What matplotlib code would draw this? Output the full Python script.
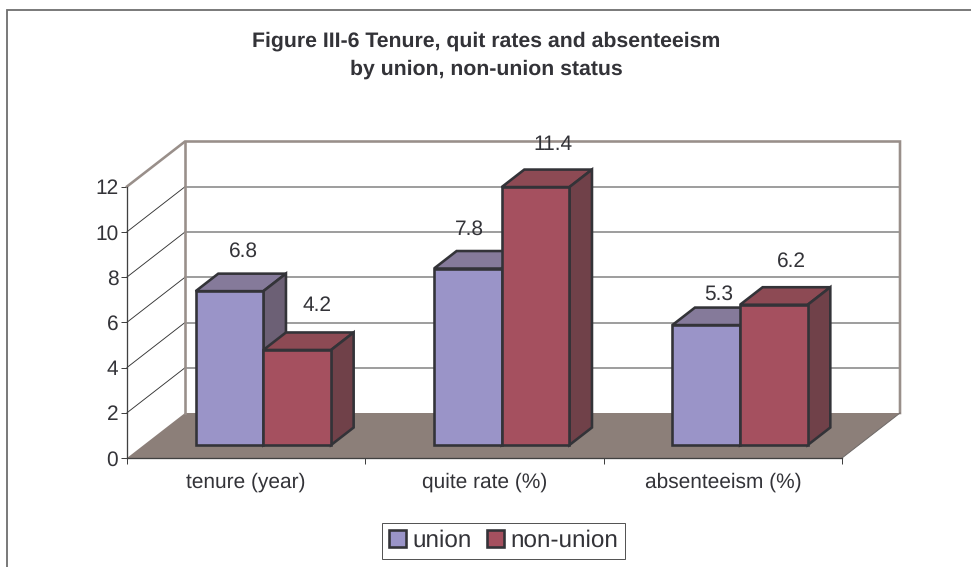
import matplotlib

matplotlib.use("Agg")
import matplotlib.pyplot as plt
from matplotlib.patches import Patch, Polygon

categories = ["tenure (year)", "quite rate (%)", "absenteeism (%)"]
union = [6.8, 7.8, 5.3]
non_union = [4.2, 11.4, 6.2]
y_ticks = [0, 2, 4, 6, 8, 10, 12]
title = "Figure III-6 Tenure, quit rates and absenteeism\nby union, non-union status"

# pixel offsets of the value labels from the top centre of each bar
union_offsets = [(13.5, 40), (2, 39), (12, 31)]
non_union_offsets = [(20, 44), (17, 43), (17.5, 43)]

W, H = 971, 567
PX = 72 / 100  # one pixel in points

plt.rcParams["font.family"] = ["Liberation Sans", "DejaVu Sans"]
plt.rcParams["text.hinting"] = "no_hinting"
TEXT = "#333338"
EDGE = "#333338"
WALL = "#998f8a"
FLOOR = "#8c7f79"

fig = plt.figure(figsize=(W / 100, H / 100), dpi=100)
ax = fig.add_axes([127 / W, 1 - 458 / H, 715 / W, 271.5 / H])
ax.set_xlim(0, 3)
ax.set_ylim(0, 12)
ax.patch.set_visible(False)

# depth of the oblique view, in data units
depth_x = 58 / (715 / 3)
depth_y = 45 / (271.5 / 12)


def proj(x, y, d):
    return (x + d * depth_x, y + d * depth_y)


def poly(points, d_values, color, edge="none", lw=0.0, z=1):
    pts = [proj(x, y, d) for (x, y), d in zip(points, d_values)]
    ax.add_patch(
        Polygon(pts, closed=True, facecolor=color, edgecolor=edge, linewidth=lw,
                zorder=z, clip_on=False, joinstyle="miter")
    )


# floor
poly([(0, 0), (3, 0), (3, 0), (0, 0)], [0, 0, 1, 1], FLOOR, z=1)

# gridlines on the side wall and back wall
for t in y_ticks[1:-1]:
    a, b = proj(0, t, 0), proj(0, t, 1)
    ax.plot([a[0], b[0]], [a[1], b[1]], color="#333333", lw=0.9 * PX, zorder=2, clip_on=False)
    c = proj(3, t, 1)
    ax.plot([b[0], c[0]], [b[1], c[1]], color="#808080", lw=1.5 * PX, zorder=2, clip_on=False)

# wall frame
a, b, c, e = proj(0, 12, 0), proj(0, 12, 1), proj(3, 12, 1), proj(3, 0, 1)
f, g = proj(0, 0, 1), proj(3, 0, 0)
ax.plot([a[0], b[0], c[0], e[0]], [a[1], b[1], c[1], e[1]], color=WALL,
        lw=2.6 * PX, zorder=3, clip_on=False, solid_joinstyle="miter")
ax.plot([b[0], f[0]], [b[1], f[1]], color=WALL, lw=2.6 * PX, zorder=3, clip_on=False)
ax.plot([e[0], g[0]], [e[1], g[1]], color="#6f6a68", lw=1 * PX, zorder=3, clip_on=False)

# bars
bar_start = 0.218
bar_w = 0.284
d0, d1 = 13 / 45, (13 + 17.5) / 45
BAR_LW = 2.6 * PX


def bar3d(x0, value, face, top, side, z):
    x1 = x0 + bar_w
    poly([(x0, value), (x1, value), (x1, value), (x0, value)], [d0, d0, d1, d1], top, EDGE, BAR_LW, z)
    poly([(x1, 0), (x1, 0), (x1, value), (x1, value)], [d0, d1, d1, d0], side, EDGE, BAR_LW, z)
    poly([(x0, 0), (x1, 0), (x1, value), (x0, value)], [d0, d0, d0, d0], face, EDGE, BAR_LW, z + 0.1)


for i in range(len(categories)):
    x_u = i + bar_start
    x_n = x_u + bar_w
    bar3d(x_u, union[i], "#9a94c8", "#857a9a", "#6c6075", 4 + i)
    bar3d(x_n, non_union[i], "#a5505f", "#8d4a54", "#704149", 4.3 + i)
    for x, v, off in ((x_u, union[i], union_offsets[i]), (x_n, non_union[i], non_union_offsets[i])):
        ax.annotate(str(v), proj(x + bar_w / 2, v, d0), xytext=(off[0] * PX, off[1] * PX),
                    textcoords="offset points", ha="center", va="center", fontsize=15,
                    color=TEXT, zorder=10, annotation_clip=False)

# axes
for s in ("top", "right"):
    ax.spines[s].set_visible(False)
for s in ("left", "bottom"):
    ax.spines[s].set_color("#404040")
    ax.spines[s].set_linewidth(1.3 * PX)
    ax.spines[s].set_zorder(3)
ax.set_yticks(y_ticks)
ax.set_xticks([0, 1, 2, 3])
ax.set_xticklabels([])
ax.set_xticks([0.5, 1.5, 2.5], minor=True)
ax.set_xticklabels(categories, minor=True)
ax.tick_params(axis="x", which="major", length=6 * PX, width=1 * PX, color="#404040", direction="out")
ax.tick_params(axis="x", which="minor", length=0, pad=14 * PX, labelsize=15, labelcolor=TEXT)
ax.tick_params(axis="y", length=6 * PX, width=1 * PX, color="#404040", pad=2, labelsize=15, labelcolor=TEXT)

fig.text(0.5 + 0.5 / W, 1 - 55 / H, title, ha="center", va="center", fontsize=15.3, fontweight="bold",
         color=TEXT, linespacing=1.55)

handles = [Patch(facecolor="#9a94c8", edgecolor=EDGE, linewidth=2.6 * PX, label="union"),
           Patch(facecolor="#a5505f", edgecolor=EDGE, linewidth=2.6 * PX, label="non-union")]
leg = fig.legend(handles=handles, loc="center", bbox_to_anchor=(503.5 / W, 1 - 541 / H), ncol=2, fontsize=17.5,
                 frameon=True, fancybox=False, edgecolor="#555555", framealpha=1, handlelength=0.7,
                 handleheight=0.7, handletextpad=0.28, columnspacing=0.6, borderpad=0.3, labelcolor=TEXT)
leg.get_frame().set_linewidth(1 * PX)

# chart frame: only the top and left edges fall inside the picture
fig.add_artist(plt.Line2D([7 / W, 7 / W, 1], [0, 1 - 9.5 / H, 1 - 9.5 / H], transform=fig.transFigure,
                          color="#6e6e6e", linewidth=1.8 * PX, solid_joinstyle="miter"))

fig.savefig("out.png", dpi=100)
